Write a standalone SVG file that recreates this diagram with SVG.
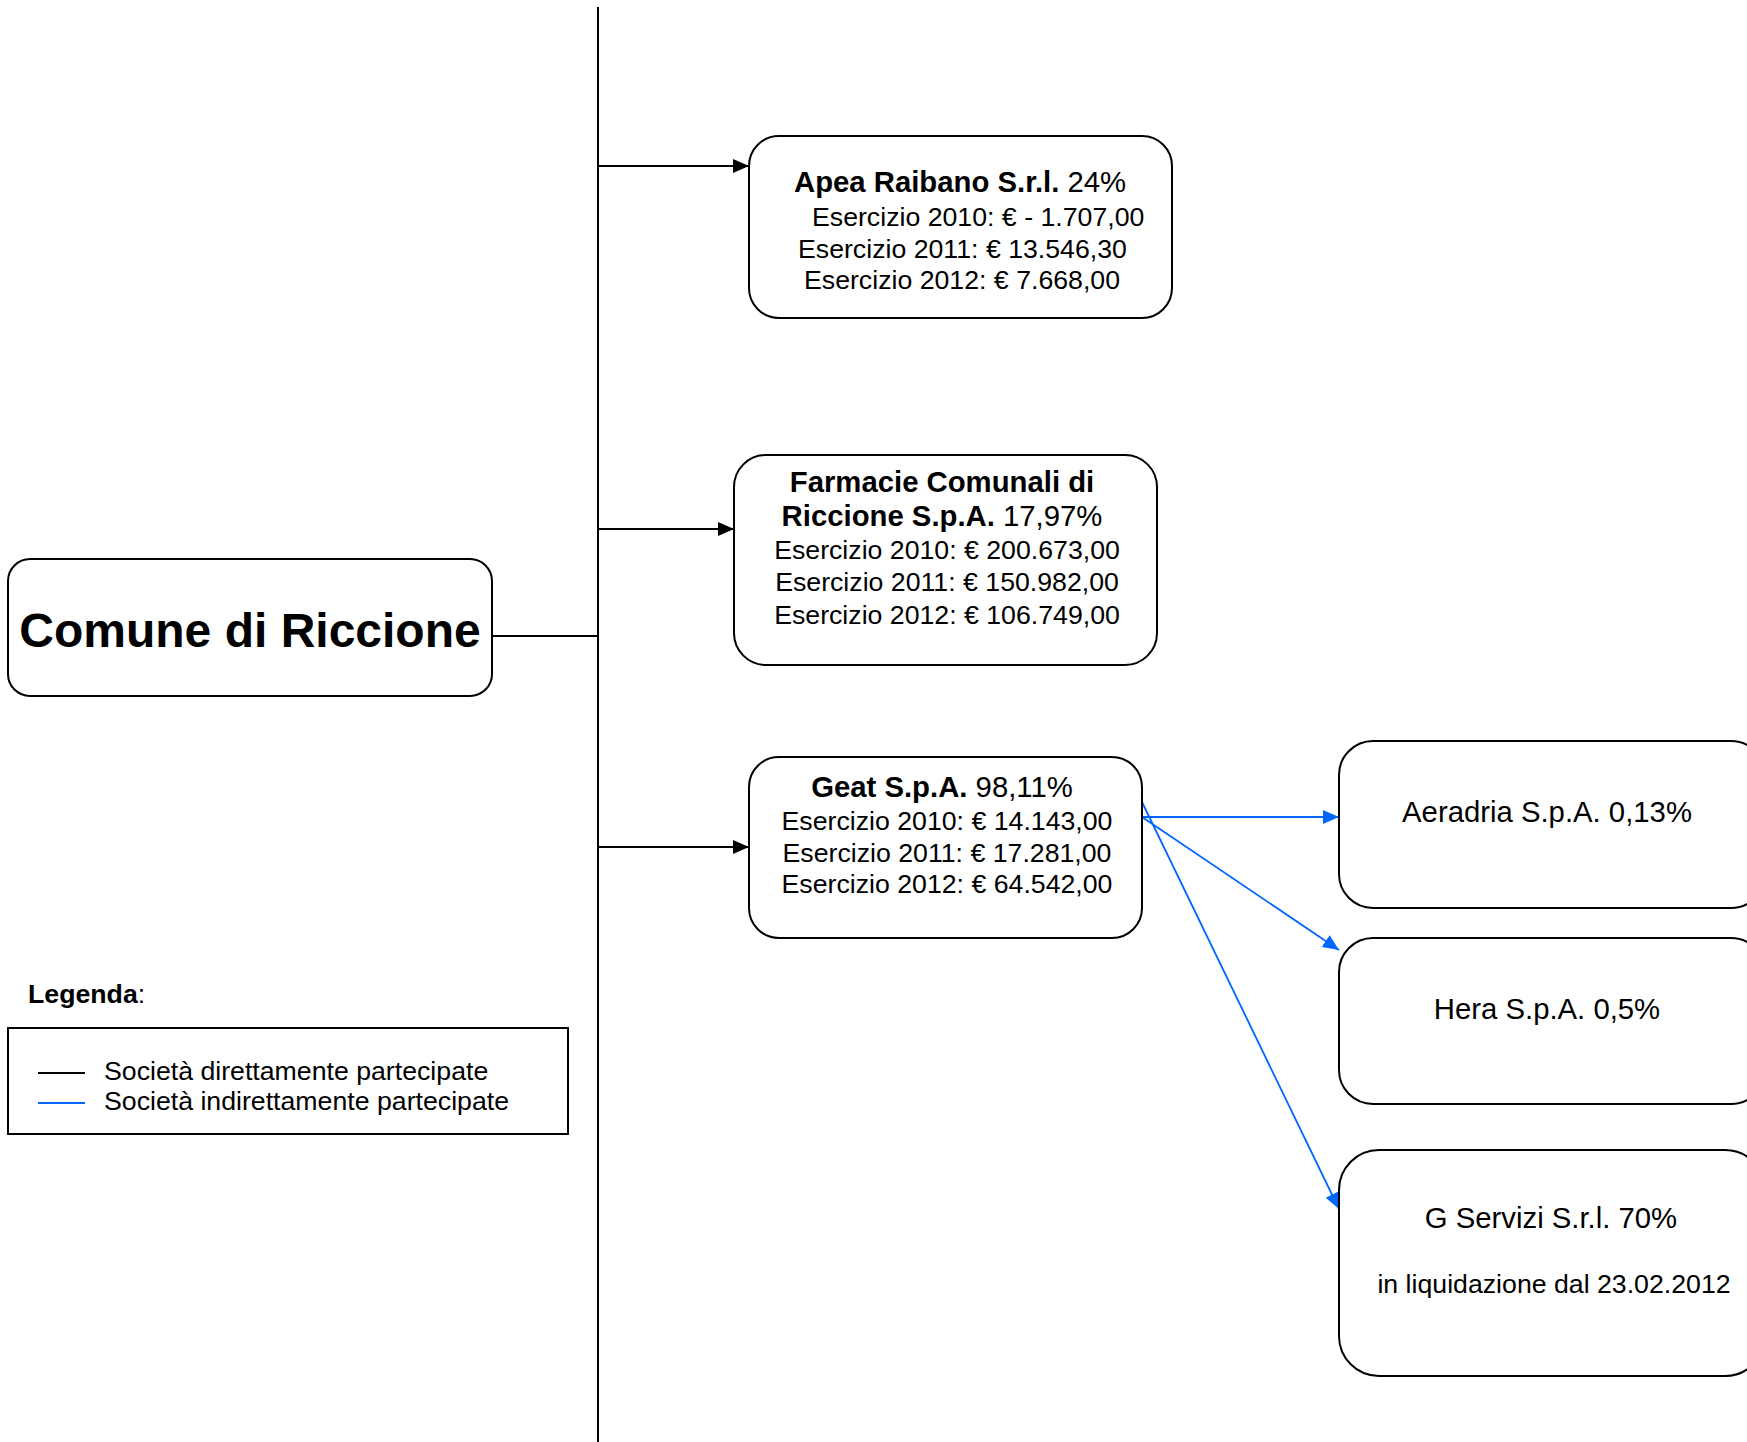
<svg xmlns="http://www.w3.org/2000/svg" width="1747" height="1442" viewBox="0 0 1747 1442">
<style>
.box{fill:#fff;stroke:#000;stroke-width:2}
text{font-family:"Liberation Sans",Arial,sans-serif;fill:#000}
.t{font-size:29.3px}
.b{font-size:26.7px}
.bold{font-weight:bold}
.k{stroke:#000;stroke-width:2;fill:none}
.bl{stroke:#0066FF;stroke-width:1.8;fill:none}
</style>
<defs>
<marker id="ak" markerWidth="16" markerHeight="14" refX="16" refY="7" orient="auto" markerUnits="userSpaceOnUse"><path d="M0,0 L16,7 L0,14 Z" fill="#000"/></marker>
<marker id="ab" markerWidth="16" markerHeight="14" refX="16" refY="7" orient="auto" markerUnits="userSpaceOnUse"><path d="M0,0 L16,7 L0,14 Z" fill="#0066FF"/></marker>
</defs>
<rect width="1747" height="1442" fill="#fff"/>
<g id="connectors">
<line class="k" x1="598" y1="7" x2="598" y2="1442"/>
<line class="k" x1="492" y1="636" x2="598" y2="636"/>
<line class="k" x1="598" y1="166" x2="749" y2="166" marker-end="url(#ak)"/>
<line class="k" x1="598" y1="529" x2="734" y2="529" marker-end="url(#ak)"/>
<line class="k" x1="598" y1="847" x2="749" y2="847" marker-end="url(#ak)"/>
<line class="bl" x1="1142" y1="817" x2="1339" y2="817" marker-end="url(#ab)"/>
<line class="bl" x1="1142" y1="817" x2="1339" y2="950" marker-end="url(#ab)"/>
<line class="bl" x1="1142" y1="802" x2="1339" y2="1209" marker-end="url(#ab)"/>
</g>
<g id="comune">
<rect class="box" x="8" y="559" width="484" height="137" rx="22"/>
<text x="250" y="647" text-anchor="middle" font-size="48" font-weight="bold">Comune di Riccione</text>
</g>
<g id="apea">
<rect class="box" x="749" y="136" width="423" height="182" rx="30"/>
<text class="t" x="794" y="192"><tspan font-weight="bold">Apea Raibano S.r.l.</tspan> 24%</text>
<text class="b" x="812" y="226">Esercizio 2010: € - 1.707,00</text>
<text class="b" x="798" y="258">Esercizio 2011: € 13.546,30</text>
<text class="b" x="804" y="289">Esercizio 2012: € 7.668,00</text>
</g>
<g id="farmacie">
<rect class="box" x="734" y="455" width="423" height="210" rx="32"/>
<text class="t bold" x="942" y="492" text-anchor="middle">Farmacie Comunali di</text>
<text class="t" x="942" y="526" text-anchor="middle"><tspan font-weight="bold">Riccione S.p.A.</tspan> 17,97%</text>
<text class="b" x="947" y="559" text-anchor="middle">Esercizio 2010: € 200.673,00</text>
<text class="b" x="947" y="591" text-anchor="middle">Esercizio 2011: € 150.982,00</text>
<text class="b" x="947" y="624" text-anchor="middle">Esercizio 2012: € 106.749,00</text>
</g>
<g id="geat">
<rect class="box" x="749" y="757" width="393" height="181" rx="30"/>
<text class="t" x="942" y="797" text-anchor="middle"><tspan font-weight="bold">Geat S.p.A.</tspan> 98,11%</text>
<text class="b" x="947" y="830" text-anchor="middle">Esercizio 2010: € 14.143,00</text>
<text class="b" x="947" y="862" text-anchor="middle">Esercizio 2011: € 17.281,00</text>
<text class="b" x="947" y="893" text-anchor="middle">Esercizio 2012: € 64.542,00</text>
</g>
<g id="aeradria">
<rect class="box" x="1339" y="741" width="426" height="167" rx="34"/>
<text class="t" x="1547" y="822" text-anchor="middle">Aeradria S.p.A. 0,13%</text>
</g>
<g id="hera">
<rect class="box" x="1339" y="938" width="426" height="166" rx="34"/>
<text class="t" x="1547" y="1019" text-anchor="middle">Hera S.p.A. 0,5%</text>
</g>
<g id="gservizi">
<rect class="box" x="1339" y="1150" width="426" height="226" rx="40"/>
<text class="t" x="1551" y="1228" text-anchor="middle">G Servizi S.r.l. 70%</text>
<text class="b" x="1554" y="1293" text-anchor="middle">in liquidazione dal 23.02.2012</text>
</g>
<g id="legenda">
<text class="b" x="28" y="1003"><tspan font-weight="bold">Legenda</tspan>:</text>
<rect x="8" y="1028" width="560" height="106" fill="#fff" stroke="#000" stroke-width="2"/>
<line x1="38" y1="1073" x2="85" y2="1073" stroke="#000" stroke-width="2"/>
<line x1="38" y1="1103" x2="85" y2="1103" stroke="#0066FF" stroke-width="2"/>
<text class="b" x="104" y="1080">Società direttamente partecipate</text>
<text class="b" x="104" y="1110">Società indirettamente partecipate</text>
</g>
</svg>
